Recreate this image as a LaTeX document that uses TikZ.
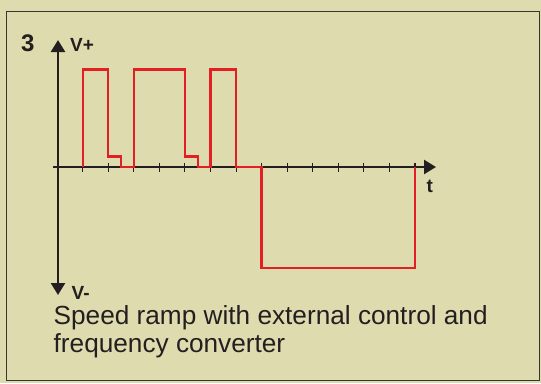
\documentclass[tikz,border=0pt]{standalone}
\usepackage{fontspec}
\setmainfont{Liberation Sans}
\usetikzlibrary{arrows.meta}
\definecolor{bgbeige}{RGB}{222,219,174}
\definecolor{axisblack}{RGB}{35,31,32}
\definecolor{sigred}{RGB}{227,30,36}
\definecolor{framegray}{RGB}{55,55,50}
\tikzset{
  axisline/.style={draw=axisblack, line width=2.4pt, -{Triangle[length=12pt,width=14pt]}},
  tickline/.style={draw=axisblack, line width=1.1pt},
  signal/.style={draw=sigred, line width=2.3pt, line join=miter},
  axislabel/.style={font=\bfseries\fontsize{19}{19}\selectfont, text=axisblack, inner sep=0pt, anchor=base west},
  caption/.style={font=\fontsize{26.2}{28}\selectfont, text=axisblack, inner sep=0pt, anchor=base west},
}
\begin{document}
\begin{tikzpicture}[x=1pt,y=-1pt]
\useasboundingbox (0,0) rectangle (541,383);
\fill[bgbeige] (0,0) rectangle (541,383);
\draw[framegray, line width=1pt] (6,11) rectangle (539,380);
% axes
\coordinate (vtop) at (58,40);
\coordinate (vbot) at (58,295);
\coordinate (hleft) at (53,167);
\coordinate (hright) at (436,167);
\coordinate (vmid) at (58,167);
\draw[axisline] (vmid) -- (vtop);
\draw[axisline] (vmid) -- (vbot);
\draw[axisline] (hleft) -- (hright);
% ticks
\foreach \i in {0,...,13}{
  \pgfmathsetmacro{\tx}{82.7+25.56*\i}
  \coordinate (tk\i a) at (\tx,162.5);
  \coordinate (tk\i b) at (\tx,171.5);
  \draw[tickline] (tk\i a) -- (tk\i b);
}
% signal
\def\hi{69.5}\def\st{156.5}\def\zr{167}\def\lo{268}
\draw[signal] (82.7,\zr) -- (82.7,\hi) -- (108.3,\hi) -- (108.3,\st) -- (121,\st) -- (121,\zr)
  -- (133.8,\zr) -- (133.8,\hi) -- (185,\hi) -- (185,\st) -- (197.7,\st) -- (197.7,\zr)
  -- (210.5,\zr) -- (210.5,\hi) -- (236,\hi) -- (236,\zr) -- (261.6,\zr) -- (261.6,\lo)
  -- (415,\lo) -- (415,\zr);
% labels
\node[axislabel, font=\bfseries\fontsize{24}{24}\selectfont] (num) at (21,51.7) {3};
\node[axislabel] (vplus) at (70,51.7) {V+};
\node[axislabel] (vminus) at (71.5,299.3) {V-};
\node[axislabel] (tlab) at (426.5,192.7) {t};
\node[caption] (cap1) at (53.5,324) {Speed ramp with external control and};
\node[caption] (cap2) at (53.5,352) {frequency converter};
\end{tikzpicture}
\end{document}
